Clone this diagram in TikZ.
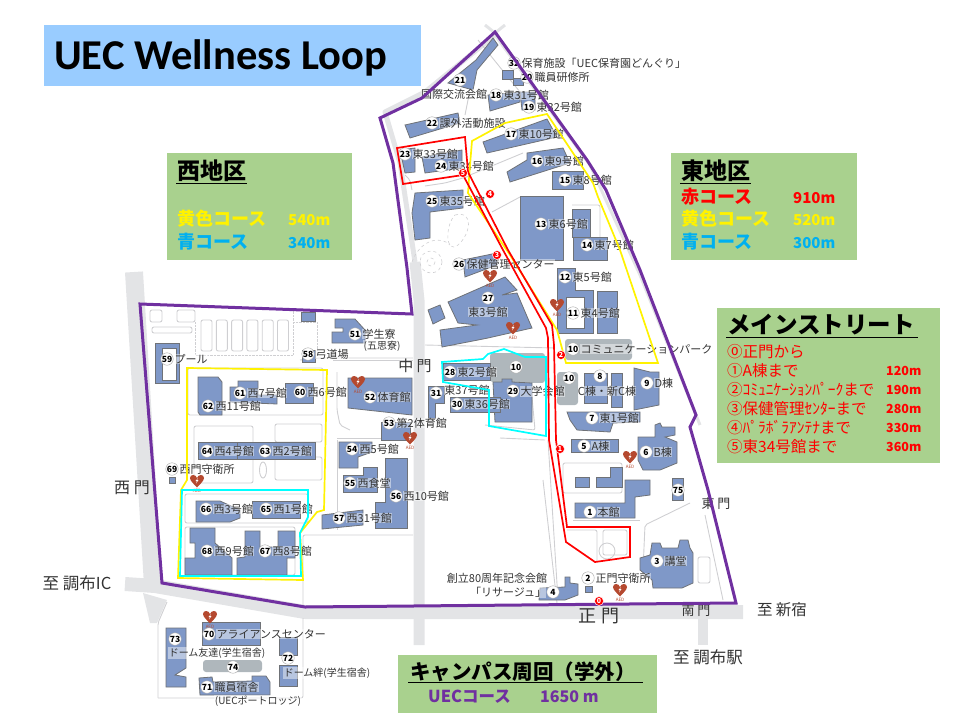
\documentclass[tikz,border=0pt]{standalone}
\usepackage{fontspec}
\setmainfont{Noto Sans CJK JP}
\newfontfamily\titlefont{Carlito}
\usetikzlibrary{positioning}
\definecolor{roadgray}{HTML}{E3E4E6}
\definecolor{pathgray}{HTML}{CFCFD2}
\definecolor{bldgblue}{HTML}{7F98C8}
\definecolor{bldgedge}{HTML}{6F7277}
\definecolor{plazagray}{HTML}{AFB7BC}
\definecolor{aedred}{HTML}{B5492F}
\definecolor{panelgreen}{HTML}{A9D18E}
\definecolor{titleblue}{HTML}{99CCFF}
\definecolor{loopviolet}{HTML}{7030A0}
\definecolor{skyblue}{HTML}{00B0F0}
\definecolor{routecyan}{HTML}{00FFFF}
\definecolor{inkgray}{HTML}{333333}
\tikzset{
  road/.style={draw=roadgray, line join=round},
  mappath/.style={draw=pathgray, line width=0.9pt, rounded corners=2pt},
  bldg/.style={fill=bldgblue, draw=bldgedge, line width=0.8pt},
  plaza/.style={fill=plazagray, draw=none, rounded corners=3pt},
  numdot/.style={circle, fill=white, draw=gray!70, line width=0.4pt, inner sep=0pt, minimum size=12.5pt, font=\fontsize{8.5}{8.5}\selectfont\bfseries, text=black},
  lbl/.style={fill=white, fill opacity=0.45, text opacity=1, inner sep=0.4pt, font=\fontsize{11}{11}\selectfont, text=inkgray},
  gate/.style={inner sep=0pt, text=inkgray},
  panel/.style={fill=panelgreen, anchor=north west, inner sep=0pt},
  phead/.style={anchor=west, inner sep=1pt, text=black},
  kmark/.style={circle, fill=red, draw=white, line width=0.5pt, inner sep=0pt, minimum size=9pt, font=\fontsize{7}{7}\selectfont\bfseries, text=white},
  routeline/.style={line width=1.7pt, line join=miter},
  aedtxt/.style={inner sep=0pt, font=\fontsize{4.5}{4.5}\selectfont, text=aedred},
  aedheart/.pic={
    \fill[aedred] (0,6.5) .. controls (-3,3) and (-7,0) .. (-7,-3) .. controls (-7,-7) and (-1,-7) .. (0,-3)
      .. controls (1,-7) and (7,-7) .. (7,-3) .. controls (7,0) and (3,3) .. (0,6.5);
    \fill[white] (1,-3) -- (-1.5,0) -- (0,0) -- (-1,2.5) -- (1.5,-1) -- (0,-1) -- cycle;
  }
}
\begin{document}
\begin{tikzpicture}[x=1pt,y=-1pt]
\useasboundingbox (0,0) rectangle (960,720);
% roads
\draw[road, line width=18pt] (134,272) -- (153,585);
\draw[road, line width=14pt] (125,584) -- (155,586) -- (305,612) -- (743,612);
\fill[roadgray] (143,593) -- (150,623) -- (157,623) -- (167,600) -- cycle;
\draw[road, line width=11pt] (419,645) -- (419,300) -- (415,262);
\draw[road, line width=5pt] (415,262) -- (400,163) -- (385,112) -- (425,92) -- (495,35);
\draw[road, line width=3pt] (495,35) -- (590,165) -- (640,275) -- (700,425);
\draw[road, line width=10pt] (703,618) -- (703,645);
\draw[road, line width=10pt] (419,618) -- (419,645);
\draw[road, line width=3pt] (485,25) -- (495,33) -- (505,25);
% paths, west
\draw[mappath] (188,368) rectangle (323,415);
\draw[mappath] (194,426) rectangle (253,483);
\draw[mappath] (275,424) rectangle (322,442);
\draw[mappath] (275,457) rectangle (322,480);
\draw[mappath] (185,494) rectangle (308,523);
\draw[mappath] (185,527) rectangle (295,575);
\draw[mappath] (150,310) rectangle (162,322);
\draw[mappath] (177,310) rectangle (195,322);
\draw[mappath] (152,327) rectangle (192,333);
\foreach \i in {0,...,5} \draw[mappath] ({201+15.3*\i},320) rectangle ({212+15.3*\i},351);
\draw[pathgray, densely dotted] (195,322) -- (195,355) -- (293,355) -- (293,310);
\draw[pathgray, densely dotted] (293,322) -- (317,322) -- (317,350);
\draw[mappath] (303,605) -- (303,535) -- (413,535);
\draw[mappath] (337,438) -- (413,438);
\draw[mappath] (333,360) -- (413,360);
\draw[mappath] (337,372) -- (337,410) -- (340,425) -- (350,430);
\draw[mappath] (300,360) -- (320,358) -- (413,358);
\draw[mappath] (337,440) -- (337,530);
\draw[pathgray, line width=0.9pt] (263,470) ellipse (3.5 and 8);
% paths, east
\draw[mappath] (425,345) -- (555,348);
\draw[mappath] (543,480) -- (557,603);
\draw[mappath] (548,440) -- (558,600);
\draw[mappath] (563,463) rectangle (622,493);
\draw[mappath] (573,520) -- (640,520);
\draw[mappath] (643,570) -- (645,525) -- (690,503);
\draw[mappath] (705,515) -- (723,600);
\draw[mappath] (603,530) rectangle (627,555);
\draw[pathgray, line width=0.9pt] (607,551) circle (8);
\draw[mappath] (567,530) -- (597,530) -- (597,562);
\draw[mappath] (698,557) rectangle (710,583);
\draw[mappath] (470,175) -- (523,153);
\draw[mappath] (492,212) -- (520,197);
\draw[mappath] (425,186) -- (445,183) -- (470,176);
\draw[mappath] (405,175) -- (410,180) -- (412,190);
\draw[mappath] (478,40) -- (520,92);
\draw[mappath] (470,90) -- (465,115);
\draw[mappath] (572,205) -- (600,205) -- (600,255);
\draw[mappath] (530,375) -- (535,430) -- (485,425);
\draw[mappath] (500,438) -- (545,440);
\draw[pathgray, dashed, line width=0.6pt] (431,262) circle (11);
\draw[pathgray, dashed, line width=0.6pt] (431,262) circle (4);
\draw[pathgray, dashed, line width=0.6pt] (455,215) .. controls (475,210) and (470,235) .. (458,245) .. controls (445,255) and (445,225) .. (455,215);
\draw[pathgray, dashed, line width=0.6pt] (412,262) .. controls (420,240) and (440,235) .. (450,245);
% plazas
\fill[plaza] (565,339) rectangle (632,360);
\fill[plaza] (490,353) -- (545,353) -- (545,383) -- (490,382) -- cycle;
\fill[plaza] (557,372) rectangle (578,405);
\fill[plaza] (203,660) rectangle (262,672);
% buildings, north part
\draw[bldg] (493,38) -- (498,45) -- (477,70) -- (473,90) -- (448,83) -- (460,73) -- (476,60) -- cycle;
\draw[bldg] (488,95) -- (520,92) -- (520,102) -- (490,111) -- cycle;
\draw[bldg] (520,92) -- (535,92) -- (535,110) -- (522,110) -- cycle;
\draw[bldg] (502,70) rectangle (513,79);
\draw[bldg] (513,78) rectangle (523,85);
\draw[bldg] (405,125) -- (458,113) -- (460,123) -- (410,138) -- cycle;
\draw[bldg] (400,150) -- (415,148) -- (415,172) -- (405,173) -- cycle;
\draw[bldg] (422,157) -- (462,150) -- (462,168) -- (425,173) -- cycle;
\draw[bldg] (415,193) -- (463,190) -- (463,208) -- (430,212) -- (430,238) -- (415,240) -- (412,213) -- cycle;
\draw[bldg] (483,142) -- (547,119) -- (557,137) -- (487,153) -- cycle;
\draw[bldg] (507,172) -- (527,160) -- (527,153) -- (563,148) -- (570,163) -- (510,182) -- cycle;
\draw[bldg] (552,171) rectangle (583,189);
\draw[bldg] (520,196) rectangle (563,260);
\draw[bldg] (572,209) rectangle (590,237);
\draw[bldg] (573,237) rectangle (607,260);
\draw[bldg] (463,260) -- (497,253) -- (497,265) -- (465,277) -- cycle;
% buildings, middle
\draw[bldg] (448,302) -- (505,277) -- (517,290) -- (502,295) -- (517,293) -- (532,328) -- (488,338) -- (478,340) -- (442,347) -- (440,330) -- (477,325) -- (458,323) -- cycle;
\draw[bldg] (428,310) -- (440,305) -- (445,318) -- (433,324) -- cycle;
\draw[bldg, even odd rule] (557,268) -- (575,268) -- (575,290) -- (593,290) -- (593,333) -- (557,333) -- cycle (566,297) rectangle (584,328);
\draw[bldg] (597,291) rectangle (617,333);
\draw[bldg] (584,373) rectangle (607,403);
\draw[bldg] (611,373) rectangle (622,407);
\draw[bldg] (634,368) -- (650,372) -- (659,372) -- (659,405) -- (634,410) -- cycle;
\draw[bldg] (567,412) -- (640,412) -- (640,422) -- (613,423) -- (610,432) -- (577,430) -- (570,420) -- cycle;
\draw[bldg] (571,439) rectangle (618,452);
\draw[bldg] (638,437) -- (655,437) -- (655,425) -- (660,423) -- (662,427) -- (675,427) -- (675,435) -- (665,437) -- (677,442) -- (677,463) -- (660,470) -- (643,470) -- (638,460) -- cycle;
\draw[bldg] (575,477) rectangle (589,487);
\draw[bldg] (596,477) -- (610,477) -- (610,467) -- (622,467) -- (622,487) -- (596,487) -- cycle;
\draw[bldg] (575,503) -- (625,503) -- (625,480) -- (650,480) -- (650,495) -- (635,497) -- (635,518) -- (575,518) -- cycle;
\draw[bldg] (672,478) rectangle (683,500);
\draw[bldg] (640,558) -- (650,555) -- (652,543) -- (660,543) -- (662,548) -- (678,548) -- (680,540) -- (688,540) -- (690,548) -- (693,553) -- (693,583) -- (682,588) -- (653,588) -- (652,580) -- (640,570) -- cycle;
\draw[bldg] (540,588) -- (565,587) -- (565,577) -- (570,577) -- (570,583) -- (578,584) -- (578,595) -- (565,600) -- (539,600) -- cycle;
\draw[bldg] (585,586) rectangle (592,592);
\draw[bldg] (493,382) -- (502,382) -- (502,379) -- (512,379) -- (512,382) -- (532,383) -- (532,422) -- (495,422) -- cycle;
\draw[bldg] (443,363) rectangle (490,380);
\draw[bldg] (428,386) -- (444,386) -- (444,403) -- (435,403) -- (435,418) -- (428,418) -- cycle;
\draw[bldg] (450,397) rectangle (500,412);
% buildings, west
\draw[bldg] (348,378) -- (412,378) -- (412,415) -- (348,408) -- cycle;
\draw[bldg] (381,422) rectangle (410,440);
\draw[bldg] (339,442) -- (372,442) -- (372,452) -- (358,457) -- (358,468) -- (339,468) -- cycle;
\draw[bldg] (343,475) -- (363,475) -- (363,467) -- (377,467) -- (377,492) -- (343,492) -- cycle;
\draw[bldg] (385,458) -- (407,458) -- (407,528) -- (375,528) -- (375,502) -- (385,502) -- cycle;
\draw[bldg] (322,515) -- (363,510) -- (363,525) -- (322,529) -- cycle;
\draw[bldg] (335,319) -- (355,319) -- (365,330) -- (365,343) -- (332,343) -- (332,332) -- (343,332) -- (343,328) -- (335,328) -- cycle;
\draw[bldg] (302,350) rectangle (315,362);
\draw[bldg] (301,312) rectangle (315,321);
\draw[bldg, even odd rule] (155,343) rectangle (179,383) (162,348) rectangle (176,380);
\draw[bldg] (198,377) -- (218,377) -- (222,382) -- (222,415) -- (200,415) -- (198,412) -- cycle;
\draw[bldg] (230,387) -- (238,387) -- (238,381) -- (258,381) -- (258,395) -- (277,395) -- (277,404) -- (230,402) -- cycle;
\draw[bldg] (285,383) rectangle (313,403);
\draw[bldg] (198,442) rectangle (253,459);
\draw[bldg] (237,442) rectangle (315,459);
\draw[bldg] (196,501) -- (220,501) -- (240,510) -- (240,518) -- (230,522) -- (196,522) -- cycle;
\draw[bldg] (252,501) rectangle (300,518);
\draw[bldg] (190,528) -- (215,528) -- (215,543) -- (232,558) -- (232,575) -- (185,575) -- (185,558) -- (195,558) -- (195,543) -- (190,543) -- cycle;
\draw[bldg] (245,531) -- (260,531) -- (260,547) -- (278,547) -- (278,531) -- (295,531) -- (295,558) -- (287,558) -- (287,575) -- (237,575) -- (237,558) -- (245,557) -- cycle;
\draw[bldg] (169,477) rectangle (175,483);
% dormitories
\draw[mappath] (158,698) -- (158,623) -- (167,602);
\draw[mappath] (158,698) -- (303,698) -- (303,618);
\draw[bldg] (202,622) rectangle (260,645);
\draw[bldg] (166,628) -- (186,628) -- (186,668) -- (175,675) -- (186,677) -- (186,687) -- (166,687) -- cycle;
\draw[bldg] (279,637) rectangle (297,655);
\draw[bldg] (279,665) rectangle (297,686);
\draw[bldg] (199,678) -- (212,677) -- (213,682) -- (252,681) -- (252,676) -- (266,676) -- (270,682) -- (270,695) -- (200,695) -- cycle;
% AED marks
\foreach \x/\y [count=\i] in {358/382,410/438,197/481,490/276,513/328,557/305,630/457,620/590,210/617} {
  \pic at (\x,\y) {aedheart};
  \node[aedtxt] (aed\i) at (\x,\y+10) {AED};
}
% numbered buildings
\foreach \n/\x/\y/\t [count=\i] in {
  21/460/80/{}, 32/514/63/{保育施設「UEC保育園どんぐり」}, 20/527/77/{職員研修所}, 18/496/95/{東31号館},
  19/529/107/{東32号館}, 22/432/123/{課外活動施設}, 17/511/134/{東10号館}, 23/405/154/{東33号館},
  24/441/166/{東34号館}, 16/537/161/{東9号館}, 15/565/180/{東8号館}, 25/432/201/{東35号館},
  13/541/224/{東6号館}, 14/587/245/{東7号館}, 26/459/264/{保健管理センター}, 12/565/277/{東5号館},
  27/488/298/{}, 11/573/313/{東4号館}, 10/573/349/{コミュニケーションパーク}, 10/516/367/{},
  10/569/378/{}, 8/600/376/{}, 9/647/383/{D棟}, 28/450/372/{東2号館}, 29/513/391/{大学会館},
  31/436/393/{}, 30/457/404/{東36号館}, 7/592/418/{東1号館}, 5/584/446/{A棟}, 6/646/452/{B棟},
  75/678/490/{}, 1/590/512/{本館}, 3/657/561/{講堂}, 2/588/578/{正門守衛所}, 4/553/592/{},
  51/355/334/{学生寮}, 58/308/354/{弓道場}, 59/167/359/{プール}, 52/370/397/{体育館},
  53/389/423/{第2体育館}, 60/300/392/{西6号館}, 61/240/393/{西7号館}, 62/208/406/{西11号館},
  54/352/449/{西5号館}, 64/207/451/{西4号館}, 63/265/451/{西2号館}, 69/172/469/{西門守衛所},
  55/350/483/{西食堂}, 56/396/496/{西10号館}, 66/206/509/{西3号館}, 65/266/509/{西1号館},
  57/339/518/{西31号館}, 68/207/551/{西9号館}, 67/265/551/{西8号館}, 70/209/634/{アライアンスセンター},
  73/175/639/{}, 72/288/658/{}, 74/233/667/{}, 71/207/687/{職員宿舎}} {
  \node[numdot] (d\i) at (\x,\y) {\n};
  \ifx\t\empty\else
    \node[lbl, right=0.6pt of d\i] (t\i) {\t};
  \fi
}
% free labels
\node[lbl] (kokusai) at (454,94) {国際交流会館};
\node[lbl] (e3) at (488,312) {東3号館};
\node[lbl] (e37) at (467,390) {東37号館};
\node[lbl] (cbldg) at (607,391) {C棟・新C棟};
\node[lbl] (soritsu) at (497,578) {創立80周年記念会館};
\node[lbl] (resage) at (508,592) {「リサージュ」};
\node[lbl, font=\fontsize{10}{10}\selectfont] (goshi) at (382,346) {(五思寮)};
\node[lbl, font=\fontsize{10}{10}\selectfont] (domeyu) at (217,653) {ドーム友達(学生宿舎)};
\node[lbl, font=\fontsize{10}{10}\selectfont] (domek) at (327,673) {ドーム絆(学生宿舎)};
\node[lbl, font=\fontsize{10}{10}\selectfont] (lodge) at (258,701) {(UECポートロッジ)};
% gates
\node[gate, font=\fontsize{15}{15}\selectfont] (nakamon) at (415,366) {中 門};
\node[gate, font=\fontsize{16}{16}\selectfont] (nishimon) at (132,488) {西 門};
\node[gate, font=\fontsize{13}{13}\selectfont] (higashimon) at (716,504) {東 門};
\node[gate, font=\fontsize{13}{13}\selectfont] (minamimon) at (696,611) {南 門};
\node[gate, font=\fontsize{18}{18}\selectfont] (seimon) at (599,616) {正 門};
\node[gate, font=\fontsize{16.5}{16.5}\selectfont] (toeki) at (708,657) {至 調布駅};
\node[gate, font=\fontsize{16.5}{16.5}\selectfont] (toic) at (77,583) {至 調布IC};
\node[gate, font=\fontsize{15.5}{15.5}\selectfont] (toshin) at (782,610) {至 新宿};
% courses
\draw[loopviolet, line width=3pt, line join=miter] (495,32) -- (587,160) -- (606,190) -- (640,270) -- (696,415) -- (690,427) -- (708,490) -- (736,603)
  -- (305,607) -- (162,583) -- (140,304) -- (412,314) -- (407,268) -- (393,163) -- (380,118) -- (422,98) -- cycle;
\draw[yellow, routeline] (472,141) -- (505,123) -- (547,114) -- (593,183) -- (598,197) -- (620,250) -- (658,363) -- (566,363) -- (557,330) -- (510,255) -- (468,193) -- (470,165) -- cycle;
\draw[yellow, routeline] (187,368) -- (327,370) -- (324,510) -- (317,512) -- (300,533) -- (303,580) -- (178,578) -- (181,490) -- (187,480) -- cycle;
\draw[routecyan, routeline] (182,490) -- (308,490) -- (308,517) -- (300,533) -- (301,576) -- (180,576) -- cycle;
\draw[routecyan, routeline] (442,362) -- (483,359) -- (488,354) -- (504,349) -- (525,357) -- (546,357) -- (546,436) -- (489,426) -- (489,390) -- (443,382) -- cycle;
\draw[red, routeline] (463,175) -- (403,184) -- (397,148) -- (465,137) -- (468,172) -- (508,250) -- (552,325) -- (554,345) -- (556,440) -- (567,527)
  -- (630,527) -- (630,557) -- (595,562) -- (566,542) -- (549,440) -- (548,338) -- (546,328) -- (503,250) -- cycle;
\foreach \k/\x/\y in {0/599/601,1/560/449,2/561/355,3/497/255,4/490/194,5/463/173}
  \node[kmark] (km\k) at (\x,\y) {\k};
% title
\node[panel, fill=titleblue, minimum width=377pt, minimum height=61pt] (titlebox) at (44,25) {};
\node[anchor=west, inner sep=0pt, font=\titlefont\bfseries\fontsize{42.5}{42.5}\selectfont] (titletext) at (54,58) {UEC Wellness Loop};
% west panel
\node[panel, minimum width=185pt, minimum height=107pt] (westbox) at (167,153) {};
\node[phead, font=\fontsize{23}{23}\selectfont\bfseries] (westhead) at (176,171) {西地区};
\draw[line width=1pt] (westhead.south west) -- (westhead.south east);
\node[anchor=west, inner sep=0pt, text=yellow, font=\fontsize{18}{18}\selectfont\bfseries] (westy) at (177,219) {黄色コース};
\node[anchor=west, inner sep=0pt, text=yellow, font=\fontsize{15}{15}\selectfont\bfseries] (westym) at (288,220) {540m};
\node[anchor=west, inner sep=0pt, text=skyblue, font=\fontsize{18}{18}\selectfont\bfseries] (westb) at (177,242) {青コース};
\node[anchor=west, inner sep=0pt, text=skyblue, font=\fontsize{15}{15}\selectfont\bfseries] (westbm) at (288,243) {340m};
% east panel
\node[panel, minimum width=186pt, minimum height=107pt] (eastbox) at (671,153) {};
\node[phead, font=\fontsize{23}{23}\selectfont\bfseries] (easthead) at (680,171) {東地区};
\draw[line width=1pt] (easthead.south west) -- (easthead.south east);
\node[anchor=west, inner sep=0pt, text=red, font=\fontsize{18}{18}\selectfont\bfseries] (eastr) at (681,197) {赤コース};
\node[anchor=west, inner sep=0pt, text=red, font=\fontsize{15}{15}\selectfont\bfseries] (eastrm) at (793,198) {910m};
\node[anchor=west, inner sep=0pt, text=yellow, font=\fontsize{18}{18}\selectfont\bfseries] (easty) at (681,219) {黄色コース};
\node[anchor=west, inner sep=0pt, text=yellow, font=\fontsize{15}{15}\selectfont\bfseries] (eastym) at (793,220) {520m};
\node[anchor=west, inner sep=0pt, text=skyblue, font=\fontsize{18}{18}\selectfont\bfseries] (eastb) at (681,242) {青コース};
\node[anchor=west, inner sep=0pt, text=skyblue, font=\fontsize{15}{15}\selectfont\bfseries] (eastbm) at (793,243) {300m};
% main street panel
\node[panel, minimum width=223pt, minimum height=155pt] (mainbox) at (717,308) {};
\node[phead, font=\fontsize{23.5}{23.5}\selectfont\bfseries] (mainhead) at (726,325) {メインストリート};
\draw[line width=1pt] (726,337) coordinate (mainl) -- (918,337) coordinate (mainr);
\foreach \t/\m/\y [count=\i] in {⓪正門から/{}/352, ①A棟まで/120m/371, ②ｺﾐｭﾆｹｰｼｮﾝﾊﾟｰｸまで/190m/390, ③保健管理ｾﾝﾀｰまで/280m/409, ④ﾊﾟﾗﾎﾞﾗｱﾝﾃﾅまで/330m/428, ⑤東34号館まで/360m/447} {
  \node[anchor=west, inner sep=0pt, text=red, font=\fontsize{15.5}{15.5}\selectfont] (mainrow\i) at (727,\y) {\t};
  \node[anchor=west, inner sep=0pt, text=red, font=\fontsize{12.5}{12.5}\selectfont\bfseries] (mainlen\i) at (886,\y) {\m};
}
% campus panel
\node[panel, minimum width=259pt, minimum height=58pt] (loopbox) at (398,655) {};
\node[phead, font=\fontsize{20.5}{20.5}\selectfont\bfseries] (loophead) at (409,672) {キャンパス周回（学外）};
\draw[line width=1pt] (408,682) coordinate (loopl) -- (643,682) coordinate (loopr);
\node[anchor=west, inner sep=0pt, text=loopviolet, font=\fontsize{16.5}{16.5}\selectfont\bfseries] (looptxt) at (428,697) {UECコース};
\node[anchor=west, inner sep=0pt, text=loopviolet, font=\fontsize{16}{16}\selectfont\bfseries] (looplen) at (540,697) {1650 m};
\end{tikzpicture}
\end{document}
